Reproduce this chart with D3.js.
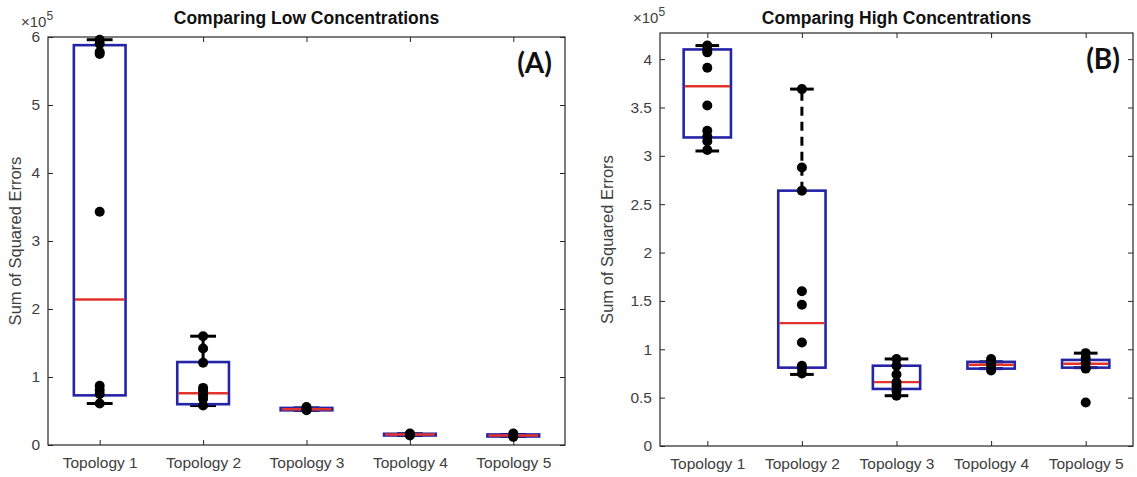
<!DOCTYPE html>
<html>
<head>
<meta charset="utf-8">
<script src="https://cdn.jsdelivr.net/npm/d3@7"></script>
<style>
  body { margin: 0; background: #fff; }
  text { font-family: "Liberation Sans", Arial, sans-serif; }
</style>
</head>
<body>
<script>
// categories shared by both panels
var categories = ["Topology 1", "Topology 2", "Topology 3", "Topology 4", "Topology 5"];

// panel A (low concentrations), values in units of 1e5
var lowQ1      = [0.73, 0.60, 0.51, 0.14, 0.125];
var lowMedian  = [2.14, 0.76, 0.525, 0.155, 0.14];
var lowQ3      = [5.88, 1.22, 0.545, 0.165, 0.155];
var lowWhiskLo = [0.61, 0.58, 0.51, 0.14, 0.125];
var lowWhiskHi = [5.96, 1.60, 0.545, 0.165, 0.155];
var lowPoints  = [
  [5.96, 5.90, 5.78, 5.75, 3.43, 0.87, 0.81, 0.75, 0.61],
  [1.60, 1.42, 1.21, 0.84, 0.79, 0.73, 0.68, 0.58],
  [0.56, 0.53, 0.51],
  [0.17, 0.14],
  [0.17, 0.12]
];
var lowTicks = [0, 1, 2, 3, 4, 5, 6];

// panel B (high concentrations)
var highQ1      = [3.19, 0.81, 0.59, 0.80, 0.81];
var highMedian  = [3.72, 1.27, 0.66, 0.84, 0.85];
var highQ3      = [4.10, 2.64, 0.83, 0.87, 0.89];
var highWhiskLo = [3.05, 0.74, 0.52, 0.80, 0.81];
var highWhiskHi = [4.14, 3.69, 0.90, 0.87, 0.96];
var highPoints  = [
  [4.14, 4.10, 4.07, 3.91, 3.52, 3.26, 3.20, 3.15, 3.06],
  [3.69, 2.88, 2.64, 1.60, 1.46, 1.07, 0.83, 0.80, 0.75],
  [0.90, 0.83, 0.74, 0.66, 0.62, 0.57, 0.52],
  [0.90, 0.86, 0.83, 0.78],
  [0.96, 0.91, 0.86, 0.81, 0.80, 0.45]
];
var highTicks = [0, 0.5, 1, 1.5, 2, 2.5, 3, 3.5, 4];

var W = 1137, H = 477;
var boxColor = "#2424a6", medColor = "#e2342c", axisColor = "#262626", textColor = "#404040";

var svg = d3.select("body").append("svg")
  .attr("width", W)
  .attr("height", H);

function drawPanel(p) {
  var g = svg.append("g");

  var x = d3.scalePoint()
    .domain(categories)
    .range([p.left, p.right])
    .padding(0.5);
  var step = x.step();

  var y = d3.scaleLinear()
    .domain([0, p.yMax])
    .range([p.bottom, p.top]);

  // axes, ticks pointing inward
  g.append("g")
    .attr("transform", "translate(" + p.left + ",0)")
    .call(d3.axisLeft(y).tickValues(p.ticks).tickSizeInner(-5).tickSizeOuter(0).tickPadding(8)
      .tickFormat(function(d){ return String(d); }));
  g.append("g")
    .attr("transform", "translate(" + p.right + ",0)")
    .call(d3.axisRight(y).tickValues(p.ticks).tickSizeInner(-5).tickSizeOuter(0).tickFormat(""));
  g.append("g")
    .attr("transform", "translate(0," + p.bottom + ")")
    .call(d3.axisBottom(x).tickSizeInner(-5).tickSizeOuter(0).tickPadding(12));
  g.append("g")
    .attr("transform", "translate(0," + p.top + ")")
    .call(d3.axisTop(x).tickSizeInner(-5).tickSizeOuter(0).tickFormat(""));

  g.selectAll(".domain").remove();
  g.selectAll(".tick line").attr("stroke", axisColor);
  g.selectAll(".tick text")
    .attr("fill", textColor)
    .style("font-size", "15.5px");

  g.append("rect")
    .attr("x", p.left)
    .attr("y", p.top)
    .attr("width", p.right - p.left)
    .attr("height", p.bottom - p.top)
    .attr("fill", "none")
    .attr("stroke", axisColor)
    .attr("stroke-width", 1.2);

  var boxes = categories.map(function(c, i){
    return { cat: c, q1: p.q1[i], med: p.med[i], q3: p.q3[i], lo: p.lo[i], hi: p.hi[i], pts: p.pts[i] };
  });

  var bw = step * 0.5, cw = step * 0.25;

  var b = g.selectAll("g.box")
    .data(boxes)
    .enter()
    .append("g")
    .attr("class", "box");

  // whiskers
  b.append("line")
    .attr("x1", function(d){ return x(d.cat); })
    .attr("x2", function(d){ return x(d.cat); })
    .attr("y1", function(d){ return y(d.q3); })
    .attr("y2", function(d){ return y(d.hi); })
    .attr("stroke", "#000")
    .attr("stroke-width", 3)
    .attr("stroke-dasharray", "9,6");
  b.append("line")
    .attr("x1", function(d){ return x(d.cat); })
    .attr("x2", function(d){ return x(d.cat); })
    .attr("y1", function(d){ return y(d.q1); })
    .attr("y2", function(d){ return y(d.lo); })
    .attr("stroke", "#000")
    .attr("stroke-width", 3)
    .attr("stroke-dasharray", "9,6");
  // caps
  ["hi", "lo"].forEach(function(k){
    b.append("line")
      .attr("x1", function(d){ return x(d.cat) - cw / 2; })
      .attr("x2", function(d){ return x(d.cat) + cw / 2; })
      .attr("y1", function(d){ return y(d[k]); })
      .attr("y2", function(d){ return y(d[k]); })
      .attr("stroke", "#000")
      .attr("stroke-width", 3);
  });

  b.append("rect")
    .attr("x", function(d){ return x(d.cat) - bw / 2; })
    .attr("width", bw)
    .attr("y", function(d){ return y(d.q3); })
    .attr("height", function(d){ return Math.max(y(d.q1) - y(d.q3), 1); })
    .attr("fill", "none")
    .attr("stroke", boxColor)
    .attr("stroke-width", 2.6);

  b.append("line")
    .attr("x1", function(d){ return x(d.cat) - bw / 2 + 1; })
    .attr("x2", function(d){ return x(d.cat) + bw / 2 - 1; })
    .attr("y1", function(d){ return y(d.med); })
    .attr("y2", function(d){ return y(d.med); })
    .attr("stroke", medColor)
    .attr("stroke-width", 2.4);

  b.selectAll("circle")
    .data(function(d){ return d.pts.map(function(v){ return { cat: d.cat, v: v }; }); })
    .enter()
    .append("circle")
    .attr("cx", function(d){ return x(d.cat); })
    .attr("cy", function(d){ return y(d.v); })
    .attr("r", 5)
    .attr("fill", "#000");

  // title, exponent, label, panel letter
  g.append("text")
    .attr("x", (p.left + p.right) / 2)
    .attr("y", 24)
    .attr("text-anchor", "middle")
    .attr("font-weight", "bold")
    .attr("fill", "#111")
    .style("font-size", "17.5px")
    .text(p.title);

  var ex = g.append("text")
    .attr("x", p.left - 27)
    .attr("y", p.top - 10)
    .attr("fill", textColor)
    .style("font-size", "15px");
  ex.append("tspan").text("\u00d710");
  ex.append("tspan").attr("dy", -7).style("font-size", "12px").text("5");

  g.append("text")
    .attr("transform", "translate(" + p.labelX + "," + ((p.top + p.bottom) / 2) + ") rotate(-90)")
    .attr("text-anchor", "middle")
    .attr("fill", textColor)
    .style("font-size", "16.5px")
    .text("Sum of Squared Errors");

  g.append("text")
    .attr("x", p.right - 13)
    .attr("y", p.top + 36)
    .attr("text-anchor", "end")
    .attr("font-weight", "bold")
    .attr("fill", "#111")
    .style("font-family", "Lato, 'Open Sans', sans-serif")
    .style("font-size", "28px")
    .text(p.letter);
}

drawPanel({
  left: 48, right: 565, top: 37, bottom: 445, yMax: 6, ticks: lowTicks,
  q1: lowQ1, med: lowMedian, q3: lowQ3, lo: lowWhiskLo, hi: lowWhiskHi, pts: lowPoints,
  title: "Comparing Low Concentrations", letter: "(A)", labelX: 21
});

drawPanel({
  left: 660, right: 1133, top: 33, bottom: 446, yMax: 4.27, ticks: highTicks,
  q1: highQ1, med: highMedian, q3: highQ3, lo: highWhiskLo, hi: highWhiskHi, pts: highPoints,
  title: "Comparing High Concentrations", letter: "(B)", labelX: 613
});
</script>
</body>
</html>
